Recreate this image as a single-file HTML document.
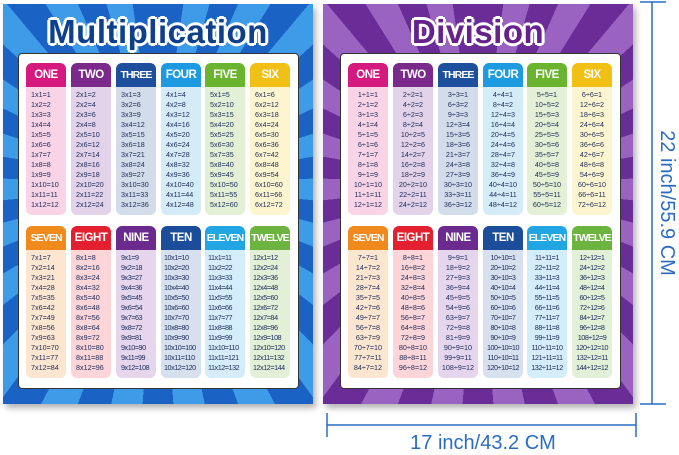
<!DOCTYPE html>
<html><head><meta charset="utf-8"><style>
body{margin:0;width:679px;height:455px;background:#fff;position:relative;overflow:hidden;font-family:"Liberation Sans",sans-serif}
.poster{position:absolute;top:4px;width:310px;height:400px;box-shadow:3px 4px 6px rgba(0,0,0,.3);overflow:hidden}
.l{left:3px;background:repeating-conic-gradient(from 0deg at 50% 45%,#1a62c4 0deg 8deg,#3d9be8 8deg 16deg)}
.r{left:323px;background:repeating-conic-gradient(from 0deg at 50% 45%,#6a2c96 0deg 8deg,#9a63c2 8deg 16deg)}
.title{position:absolute;top:9px;left:0;width:100%;text-align:center;font-weight:900;font-size:33px;letter-spacing:0.5px;
text-shadow:2px 0 0 #fff,-2px 0 0 #fff,0 2px 0 #fff,0 -2px 0 #fff,2px 2px 0 #fff,-2px -2px 0 #fff,2px -2px 0 #fff,-2px 2px 0 #fff,3px 0 0 #fff,-3px 0 0 #fff,0 3px 0 #fff,0 -3px 0 #fff}
.l .title{color:#0d3f8c}
.r .title{color:#66218c}
.panel{position:absolute;top:49px;width:279px;height:334px;background:#fff;border:1px solid #333;border-radius:4px}
.l .panel{left:15px}.r .panel{left:17px}
.col{position:absolute;width:40px;border-radius:6px;overflow:hidden}
.h{height:24px;color:#fff;font-weight:bold;font-size:11.5px;line-height:24px;text-align:center;letter-spacing:-0.5px;white-space:nowrap}
.h.s{font-size:10.5px;letter-spacing:-0.9px}
.b{padding-top:3px;height:125px;font-size:7.2px;line-height:10px;color:#1b2a5a;white-space:nowrap}
.b.s{letter-spacing:-0.45px}
.l .b{padding-left:5px}.r .b{text-align:center}
.r1{top:9px}.r2{top:172px}
.c1{left:7px}.c2{left:52px}.c3{left:97px}.c4{left:142px}.c5{left:186px}.c6{left:231px}
</style></head><body>

<div class="poster l">
<div class="title">Multiplication</div>
<div class="panel">
<div class="col r1 c1"><div class="h" style="background:#d6197f">ONE</div><div class="b" style="background:#f9d3e6">1x1=1<br>1x2=2<br>1x3=3<br>1x4=4<br>1x5=5<br>1x6=6<br>1x7=7<br>1x8=8<br>1x9=9<br>1x10=10<br>1x11=11<br>1x12=12</div></div>
<div class="col r1 c2"><div class="h" style="background:#7b2a8c">TWO</div><div class="b" style="background:#e3d3ea">2x1=2<br>2x2=4<br>2x3=6<br>2x4=8<br>2x5=10<br>2x6=12<br>2x7=14<br>2x8=16<br>2x9=18<br>2x10=20<br>2x11=22<br>2x12=24</div></div>
<div class="col r1 c3"><div class="h s" style="background:#1d4f9c">THREE</div><div class="b" style="background:#d3dcea">3x1=3<br>3x2=6<br>3x3=9<br>3x4=12<br>3x5=15<br>3x6=18<br>3x7=21<br>3x8=24<br>3x9=27<br>3x10=30<br>3x11=33<br>3x12=36</div></div>
<div class="col r1 c4"><div class="h" style="background:#1e9be0">FOUR</div><div class="b" style="background:#d3ecf8">4x1=4<br>4x2=8<br>4x3=12<br>4x4=16<br>4x5=20<br>4x6=24<br>4x7=28<br>4x8=32<br>4x9=36<br>4x10=40<br>4x11=44<br>4x12=48</div></div>
<div class="col r1 c5"><div class="h" style="background:#6ab42f">FIVE</div><div class="b" style="background:#e3f0d6">5x1=5<br>5x2=10<br>5x3=15<br>5x4=20<br>5x5=25<br>5x6=30<br>5x7=35<br>5x8=40<br>5x9=45<br>5x10=50<br>5x11=55<br>5x12=60</div></div>
<div class="col r1 c6"><div class="h" style="background:#f0c015">SIX</div><div class="b" style="background:#fdf5cf">6x1=6<br>6x2=12<br>6x3=18<br>6x4=24<br>6x5=30<br>6x6=36<br>6x7=42<br>6x8=48<br>6x9=54<br>6x10=60<br>6x11=66<br>6x12=72</div></div>
<div class="col r2 c1"><div class="h s" style="background:#f08a1c">SEVEN</div><div class="b" style="background:#fde6cf">7x1=7<br>7x2=14<br>7x3=21<br>7x4=28<br>7x5=35<br>7x6=42<br>7x7=49<br>7x8=56<br>7x9=63<br>7x10=70<br>7x11=77<br>7x12=84</div></div>
<div class="col r2 c2"><div class="h" style="background:#e3202f">EIGHT</div><div class="b" style="background:#fbd5d8">8x1=8<br>8x2=16<br>8x3=24<br>8x4=32<br>8x5=40<br>8x6=48<br>8x7=56<br>8x8=64<br>8x9=72<br>8x10=80<br>8x11=88<br>8x12=96</div></div>
<div class="col r2 c3"><div class="h" style="background:#6b2a8e">NINE</div><div class="b s" style="background:#e5d6ee">9x1=9<br>9x2=18<br>9x3=27<br>9x4=36<br>9x5=45<br>9x6=54<br>9x7=63<br>9x8=72<br>9x9=81<br>9x10=90<br>9x11=99<br>9x12=108</div></div>
<div class="col r2 c4"><div class="h" style="background:#1c4d9a">TEN</div><div class="b s" style="background:#d6e0ee;padding-left:3px">10x1=10<br>10x2=20<br>10x3=30<br>10x4=40<br>10x5=50<br>10x6=60<br>10x7=70<br>10x8=80<br>10x9=90<br>10x10=100<br>10x11=110<br>10x12=120</div></div>
<div class="col r2 c5"><div class="h s" style="background:#22a6e3">ELEVEN</div><div class="b s" style="background:#d3eefa;padding-left:3px">11x1=11<br>11x2=22<br>11x3=33<br>11x4=44<br>11x5=55<br>11x6=66<br>11x7=77<br>11x8=88<br>11x9=99<br>11x10=110<br>11x11=121<br>11x12=132</div></div>
<div class="col r2 c6"><div class="h s" style="background:#6db33f">TWELVE</div><div class="b s" style="background:#e2f0d8;padding-left:3px">12x1=12<br>12x2=24<br>12x3=36<br>12x4=48<br>12x5=60<br>12x6=72<br>12x7=84<br>12x8=96<br>12x9=108<br>12x10=120<br>12x11=132<br>12x12=144</div></div>
</div></div>

<div class="poster r">
<div class="title">Division</div>
<div class="panel">
<div class="col r1 c1"><div class="h" style="background:#d6197f">ONE</div><div class="b" style="background:#f9d3e6">1÷1=1<br>2÷1=2<br>3÷1=3<br>4÷1=4<br>5÷1=5<br>6÷1=6<br>7÷1=7<br>8÷1=8<br>9÷1=9<br>10÷1=10<br>11÷1=11<br>12÷1=12</div></div>
<div class="col r1 c2"><div class="h" style="background:#7b2a8c">TWO</div><div class="b" style="background:#e3d3ea">2÷2=1<br>4÷2=2<br>6÷2=3<br>8÷2=4<br>10÷2=5<br>12÷2=6<br>14÷2=7<br>16÷2=8<br>18÷2=9<br>20÷2=10<br>22÷2=11<br>24÷2=12</div></div>
<div class="col r1 c3"><div class="h s" style="background:#1d4f9c">THREE</div><div class="b" style="background:#d3dcea">3÷3=1<br>6÷3=2<br>9÷3=3<br>12÷3=4<br>15÷3=5<br>18÷3=6<br>21÷3=7<br>24÷3=8<br>27÷3=9<br>30÷3=10<br>33÷3=11<br>36÷3=12</div></div>
<div class="col r1 c4"><div class="h" style="background:#1e9be0">FOUR</div><div class="b" style="background:#d3ecf8">4÷4=1<br>8÷4=2<br>12÷4=3<br>16÷4=4<br>20÷4=5<br>24÷4=6<br>28÷4=7<br>32÷4=8<br>36÷4=9<br>40÷4=10<br>44÷4=11<br>48÷4=12</div></div>
<div class="col r1 c5"><div class="h" style="background:#6ab42f">FIVE</div><div class="b" style="background:#e3f0d6">5÷5=1<br>10÷5=2<br>15÷5=3<br>20÷5=4<br>25÷5=5<br>30÷5=6<br>35÷5=7<br>40÷5=8<br>45÷5=9<br>50÷5=10<br>55÷5=11<br>60÷5=12</div></div>
<div class="col r1 c6"><div class="h" style="background:#f0c015">SIX</div><div class="b" style="background:#fdf5cf">6÷6=1<br>12÷6=2<br>18÷6=3<br>24÷6=4<br>30÷6=5<br>36÷6=6<br>42÷6=7<br>48÷6=8<br>54÷6=9<br>60÷6=10<br>66÷6=11<br>72÷6=12</div></div>
<div class="col r2 c1"><div class="h s" style="background:#f08a1c">SEVEN</div><div class="b" style="background:#fde6cf">7÷7=1<br>14÷7=2<br>21÷7=3<br>28÷7=4<br>35÷7=5<br>42÷7=6<br>49÷7=7<br>56÷7=8<br>63÷7=9<br>70÷7=10<br>77÷7=11<br>84÷7=12</div></div>
<div class="col r2 c2"><div class="h" style="background:#e3202f">EIGHT</div><div class="b" style="background:#fbd5d8">8÷8=1<br>16÷8=2<br>24÷8=3<br>32÷8=4<br>40÷8=5<br>48÷8=6<br>56÷8=7<br>64÷8=8<br>72÷8=9<br>80÷8=10<br>88÷8=11<br>96÷8=12</div></div>
<div class="col r2 c3"><div class="h" style="background:#6b2a8e">NINE</div><div class="b" style="background:#e5d6ee">9÷9=1<br>18÷9=2<br>27÷9=3<br>36÷9=4<br>45÷9=5<br>54÷9=6<br>63÷9=7<br>72÷9=8<br>81÷9=9<br>90÷9=10<br>99÷9=11<br>108÷9=12</div></div>
<div class="col r2 c4"><div class="h" style="background:#1c4d9a">TEN</div><div class="b s" style="background:#d6e0ee">10÷10=1<br>20÷10=2<br>30÷10=3<br>40÷10=4<br>50÷10=5<br>60÷10=6<br>70÷10=7<br>80÷10=8<br>90÷10=9<br>100÷10=10<br>110÷10=11<br>120÷10=12</div></div>
<div class="col r2 c5"><div class="h s" style="background:#22a6e3">ELEVEN</div><div class="b s" style="background:#d3eefa">11÷11=1<br>22÷11=2<br>33÷11=3<br>44÷11=4<br>55÷11=5<br>66÷11=6<br>77÷11=7<br>88÷11=8<br>99÷11=9<br>110÷11=10<br>121÷11=11<br>132÷11=12</div></div>
<div class="col r2 c6"><div class="h s" style="background:#6db33f">TWELVE</div><div class="b s" style="background:#e2f0d8">12÷12=1<br>24÷12=2<br>36÷12=3<br>48÷12=4<br>60÷12=5<br>72÷12=6<br>84÷12=7<br>96÷12=8<br>108÷12=9<br>120÷12=10<br>132÷12=11<br>144÷12=12</div></div>
</div></div>

<svg style="position:absolute;left:0;top:0" width="679" height="455">
<g stroke="#2a6cc4" stroke-width="1.5">
<line x1="652" y1="2" x2="652" y2="404"/><line x1="640" y1="2" x2="666" y2="2"/><line x1="640" y1="404" x2="666" y2="404"/>
<line x1="327" y1="425" x2="636" y2="425"/><line x1="327" y1="413" x2="327" y2="437"/><line x1="636" y1="413" x2="636" y2="437"/>
</g>
<text x="483" y="449" text-anchor="middle" font-family="Liberation Sans, sans-serif" font-size="20" fill="#2a6cc4">17 inch/43.2 CM</text>
<text transform="translate(661,203) rotate(90)" text-anchor="middle" font-family="Liberation Sans, sans-serif" font-size="20" fill="#2a6cc4">22 inch/55.9 CM</text>
</svg>
</body></html>
